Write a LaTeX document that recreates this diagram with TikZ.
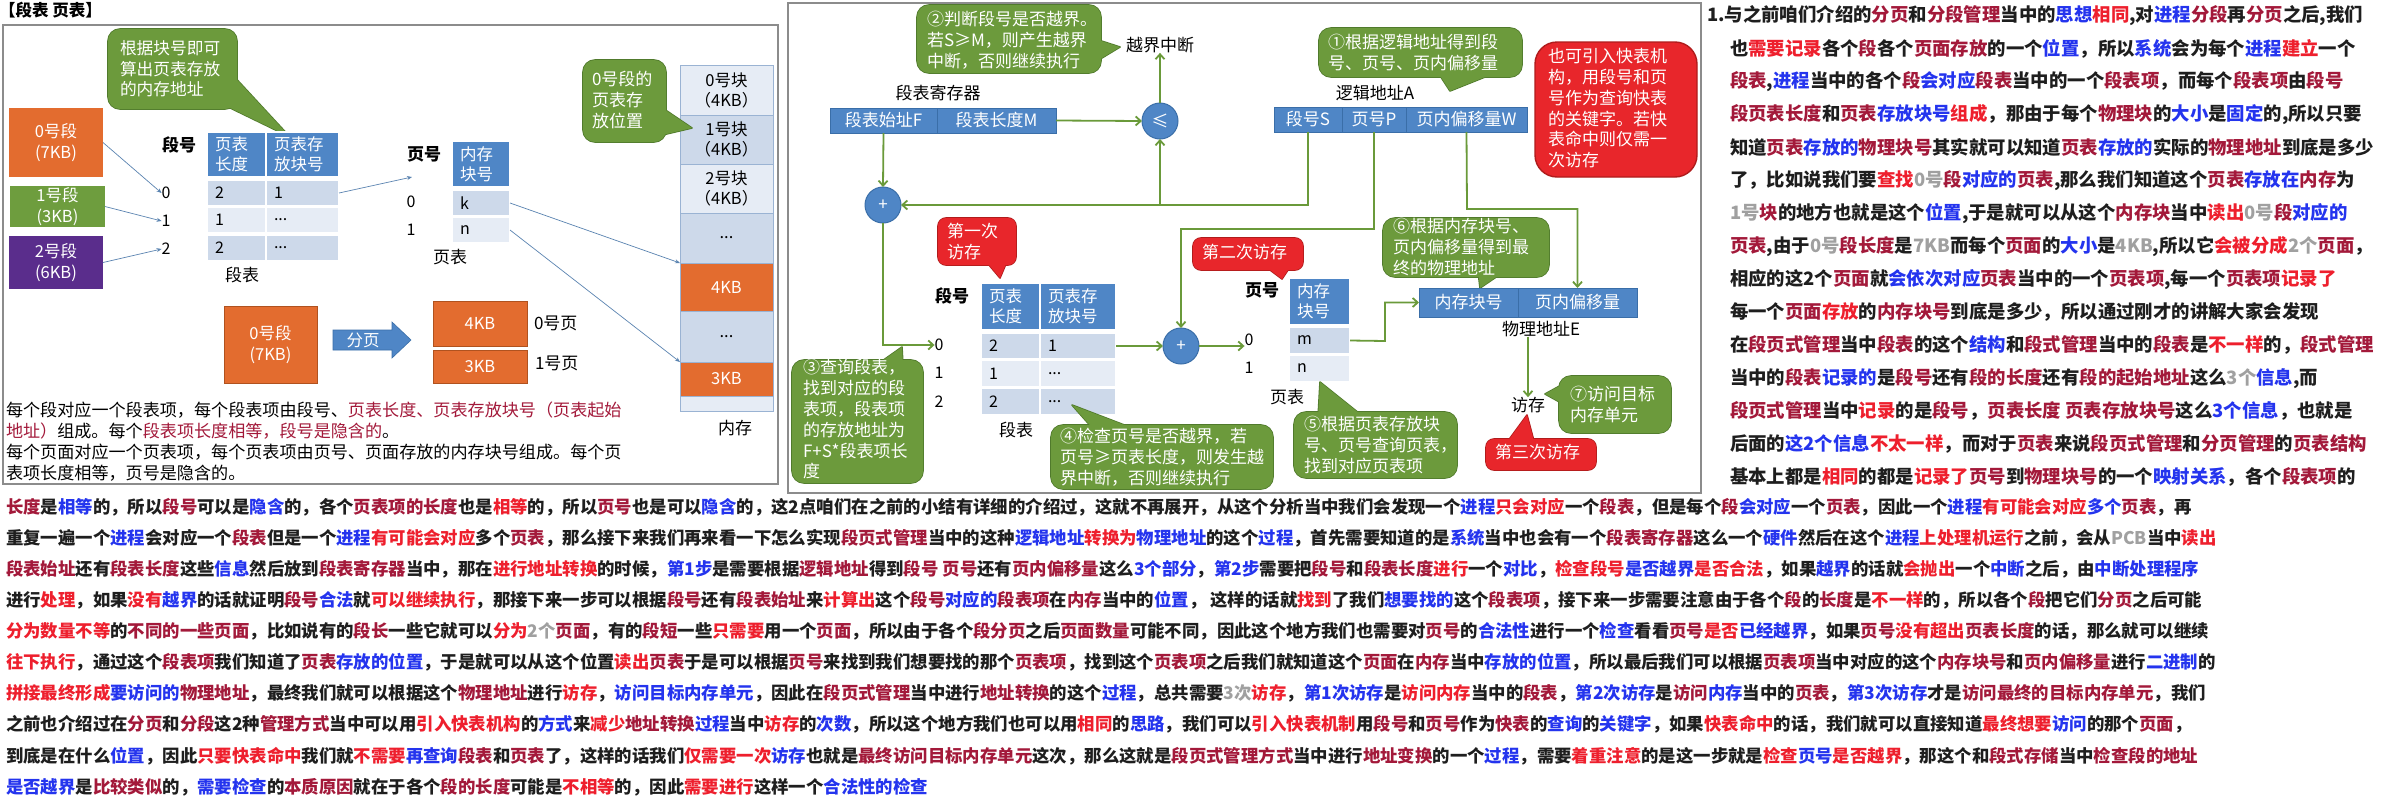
\documentclass[tikz,border=0pt]{standalone}
\usepackage{fontspec}
\setmainfont{Noto Sans CJK SC}
\usetikzlibrary{arrows.meta}
\definecolor{hdr}{HTML}{4F86C6}
\definecolor{hdrb}{HTML}{3A6EA8}
\definecolor{rowa}{HTML}{CDD9EA}
\definecolor{rowb}{HTML}{E6ECF5}
\definecolor{gfill}{HTML}{6C9A3C}
\definecolor{gbord}{HTML}{507A2C}
\definecolor{rfill}{HTML}{E8262B}
\definecolor{rbord}{HTML}{B01C1C}
\definecolor{segor}{HTML}{E36C2F}
\definecolor{segd}{HTML}{B0521F}
\definecolor{seggr}{HTML}{6E9D3E}
\definecolor{segpu}{HTML}{5A2D8C}
\definecolor{conn}{HTML}{6A9A3A}
\definecolor{thinb}{HTML}{5B84B1}
\definecolor{panelc}{HTML}{8C8C8C}
\definecolor{memb}{HTML}{9AB3D3}
\definecolor{tDR}{HTML}{A3193A}
\definecolor{tR}{HTML}{EE1F2D}
\definecolor{tB}{HTML}{2434EE}
\definecolor{tG}{HTML}{A0A0A0}
\definecolor{tK}{HTML}{1E1E1E}
\newcommand\fsz[2]{\fontsize{#1}{#2}\selectfont}
\newcommand\DR[1]{\textcolor{tDR}{#1}}
\newcommand\RR[1]{\textcolor{tR}{#1}}
\newcommand\BB[1]{\textcolor{tB}{#1}}
\newcommand\GG[1]{\textcolor{tG}{#1}}
\newcommand\callout[8]{%
  \draw[draw=#2, line width=1.6pt, rounded corners=#8] #3 rectangle #4;
  \draw[draw=#2, line width=1.6pt, line join=round] #5 -- #6 -- #7;
  \fill[#1, rounded corners=#8] #3 rectangle #4;
  \fill[#1] #5 -- #6 -- #7 -- cycle;}
\tikzset{
  every node/.style={inner sep=0pt, outer sep=0pt},
  panel/.style={draw=panelc, line width=1.2pt},
  lab/.style={font=\fsz{17}{17}},
  labb/.style={font=\fsz{17}{17}\bfseries},
  numl/.style={font=\fsz{16}{16}},
  hc/.style 2 args={draw=white, line width=1.2pt, fill=hdr, text=white, anchor=north west, align=left, inner xsep=8pt, text width=#1, minimum height=#2, font=\fsz{16.5}{20}},
  tc/.style n args={3}{draw=white, line width=1.2pt, fill=#3, anchor=north west, align=left, inner xsep=8pt, text width=#1, minimum height=#2, font=\fsz{16}{16}},
  mem/.style 2 args={draw=memb, line width=0.8pt, fill=#1, anchor=north west, minimum width=93pt, minimum height=#2, align=center, font=\fsz{16.5}{20}},
  bx/.style n args={3}{fill=#1, anchor=north west, minimum width=#2, minimum height=#3, align=center, text=white, font=\fsz{16.5}{21}},
  rg/.style={fill=hdr, draw=hdrb, line width=0.8pt, anchor=north west, minimum height=25pt, text=white, font=\fsz{17}{17}},
  circ/.style={circle, fill=hdr, draw=hdrb, line width=1pt, minimum size=36pt, text=white, font=\fsz{17}{17}},
  cot/.style={anchor=north west, align=left, text=white, font=\fsz{17}{20.8}},
  garrow/.style={draw=conn, line width=1.8pt, -{Straight Barb[length=5pt,width=9pt]}},
  tarrow/.style={draw=thinb, line width=0.7pt, -{Stealth[length=5pt,width=4pt]}},
  ltx/.style={anchor=west, font=\fsz{17.1}{17.1}, text=black},
  rtx/.style={anchor=west, font=\fsz{18.4}{18.4}\bfseries, text=tK},
  btx/.style={anchor=west, font=\fsz{17.4}{17.4}\bfseries, text=tK}
}
\begin{document}
\begin{tikzpicture}[x=1pt,y=-1pt]
\useasboundingbox (0,0) rectangle (2386,801);
\fill[white] (0,0) rectangle (2386,801);

% ---------------- left panel ----------------
\node[anchor=west, font=\fsz{16.5}{16.5}\bfseries] (title) at (-1,10) {【段表 页表】};
\draw[panel] (3,25) rectangle (778,484);

\callout{gfill}{gbord}{(108,29)}{(237,109)}{(228,70)}{(290,137)}{(220,103)}{12pt}
\node[cot, font=\fsz{16.7}{20.5}] (cl1) at (120,40.5) {根据块号即可\\算出页表存放\\的内存地址};

\node[bx={segor}{94pt}{69pt}] (sg0) at (9,108) {0号段\\(7KB)};
\node[bx={seggr}{95pt}{41pt}] (sg1) at (10,186) {1号段\\(3KB)};
\node[bx={segpu}{94pt}{53pt}] (sg2) at (9,236) {2号段\\(6KB)};

\node[labb] (lsh) at (179,145) {段号};
\node[numl] (n0) at (166,193) {0};
\node[numl] (n1) at (166,221) {1};
\node[numl] (n2) at (166,249) {2};

\node[hc={43pt}{45pt}] (lh1) at (207,132) {页表\\长度};
\node[hc={57pt}{45pt}] (lh2) at (266,132) {页表存\\放块号};
\node[tc={43pt}{26pt}{rowa}] (lr01) at (207,180) {2};
\node[tc={57pt}{26pt}{rowa}] (lr02) at (266,180) {1};
\node[tc={43pt}{26pt}{rowb}] (lr11) at (207,207) {1};
\node[tc={57pt}{26pt}{rowb}] (lr12) at (266,207) {...};
\node[tc={43pt}{26pt}{rowa}] (lr21) at (207,235) {2};
\node[tc={57pt}{26pt}{rowa}] (lr22) at (266,235) {...};
\node[lab] (lsb) at (242,275) {段表};

\node[labb] (lph) at (424,154) {页号};
\node[numl] (lp0) at (411,202) {0};
\node[numl] (lp1) at (411,230) {1};
\node[hc={42pt}{46pt}] (lph1) at (452,141) {内存\\块号};
\node[tc={42pt}{26pt}{rowa}] (lpk) at (452,190) {k};
\node[tc={42pt}{26pt}{rowb}] (lpn) at (452,217) {n};
\node[lab] (lpb) at (450,257) {页表};

\node[bx={segor}{93pt}{77pt}, draw=segd, line width=0.8pt] (sb) at (224,306) {0号段\\(7KB)};
\path[fill=hdr, draw=hdrb, line width=0.6pt] (333,330) -- (392,330) -- (392,322) -- (411,340) -- (392,358) -- (392,350) -- (333,350) -- cycle;
\node[text=white, font=\fsz{16.5}{16.5}] (fy) at (363,340) {分页};
\node[bx={segor}{94pt}{45pt}, draw=segd, line width=0.8pt] (pg4) at (433,301) {4KB};
\node[bx={segor}{94pt}{33pt}, draw=segd, line width=0.8pt] (pg3) at (433,350) {3KB};
\node[lab, anchor=west] (pl0) at (534,323) {0号页};
\node[lab, anchor=west] (pl1) at (535,363) {1号页};

\node[mem={rowb}{50pt}] (m0) at (680,65) {0号块\\（4KB）};
\node[mem={rowa}{49pt}] (m1) at (680,115) {1号块\\（4KB）};
\node[mem={rowb}{49pt}] (m2) at (680,164) {2号块\\（4KB）};
\node[mem={rowa}{50pt}] (m3) at (680,213) {...};
\node[mem={segor}{48pt}, text=white] (m4) at (680,263) {4KB};
\node[mem={rowa}{51pt}] (m5) at (680,311) {...};
\node[mem={segor}{34pt}, text=white] (m6) at (680,362) {3KB};
\node[mem={rowb}{15pt}] (m7) at (680,396) {};
\node[lab] (mlab) at (735,428) {内存};

\callout{gfill}{gbord}{(583,60)}{(666,142)}{(658,105)}{(692,128)}{(658,136)}{12pt}
\node[cot] (cl2) at (592,71.5) {0号段的\\页表存\\放位置};

\node[ltx] (lt1) at (6,410) {每个段对应一个段表项，每个段表项由段号、\DR{页表长度、页表存放块号（页表起始}};
\node[ltx] (lt2) at (6,431) {\DR{地址）}组成。每个\DR{段表项长度相等，段号是隐含的}。};
\node[ltx] (lt3) at (6,452) {每个页面对应一个页表项，每个页表项由页号、页面存放的内存块号组成。每个页};
\node[ltx] (lt4) at (6,473) {表项长度相等，页号是隐含的。};

\coordinate (pgin) at (412,177);
\draw[tarrow] (sg0.east) -- (n0.west);
\draw[tarrow] (sg1.east) -- (n1.west);
\draw[tarrow] (sg2.east) -- (n2.west);
\draw[tarrow] (lr02.east) -- (pgin);
\draw[tarrow] (lpk.east) -- (m4.north west);
\draw[tarrow] (lpn.east) -- (m6.north west);

% ---------------- middle panel ----------------
\draw[panel] (788,3) rectangle (1701,493);

\callout{gfill}{gbord}{(917,5)}{(1101,73)}{(1092,38)}{(1120,47)}{(1092,64)}{12pt}
\node[cot] (c2t) at (927,11.5) {②判断段号是否越界。\\若S≥M，则产生越界\\中断，否则继续执行};
\node[lab] (yjzd) at (1160,45) {越界中断};

\node[lab] (regl) at (938,93) {段表寄存器};
\node[rg, minimum width=107pt] (regF) at (830,108) {段表始址F};
\node[rg, minimum width=119pt] (regM) at (937,108) {段表长度M};
\node[circ] (le) at (1160,121) {≤};
\node[circ] (plus1) at (883,205) {+};

\callout{rfill}{rbord}{(938,218)}{(1016,265)}{(984,259)}{(1000,278)}{(1008,259)}{8pt}
\node[cot] (c1t) at (947,223.5) {第一次\\访存};

\node[labb] (msh) at (952,296) {段号};
\node[numl] (s0) at (939,345) {0};
\node[numl] (s1) at (939,373) {1};
\node[numl] (s2) at (939,402) {2};
\node[hc={43pt}{47pt}] (mh1) at (981,283) {页表\\长度};
\node[hc={60pt}{47pt}] (mh2) at (1040,283) {页表存\\放块号};
\node[tc={43pt}{26pt}{rowa}] (mr01) at (981,333) {2};
\node[tc={60pt}{26pt}{rowa}] (mr02) at (1040,333) {1};
\node[tc={43pt}{27pt}{rowb}] (mr11) at (981,360) {1};
\node[tc={60pt}{27pt}{rowb}] (mr12) at (1040,360) {...};
\node[tc={43pt}{27pt}{rowa}] (mr21) at (981,388) {2};
\node[tc={60pt}{27pt}{rowa}] (mr22) at (1040,388) {...};
\node[lab] (msb) at (1016,430) {段表};

\callout{gfill}{gbord}{(792,360)}{(923,483)}{(875,366)}{(902,347)}{(903,366)}{12pt}
\node[cot] (c3t) at (803,359.5) {③查询段表，\\找到对应的段\\表项，段表项\\的存放地址为\\F+S*段表项长\\度};

\callout{gfill}{gbord}{(1051,425)}{(1273,489)}{(1095,431)}{(1072,405)}{(1140,431)}{12pt}
\node[cot] (c4t) at (1060,428.5) {④检查页号是否越界，若\\页号≥页表长度，则发生越\\界中断，否则继续执行};

\node[circ] (plus2) at (1181,346) {+};

\callout{rfill}{rbord}{(1193,238)}{(1303,270)}{(1262,264)}{(1282,279)}{(1292,264)}{8pt}
\node[cot] (c2r) at (1202,244.5) {第二次访存};

\node[labb] (mph) at (1262,290) {页号};
\node[numl] (p0) at (1249,340) {0};
\node[numl] (p1) at (1249,368) {1};
\node[hc={45pt}{47pt}] (ph) at (1289,278) {内存\\块号};
\node[tc={45pt}{27pt}{rowa}] (pm) at (1289,327) {m};
\node[tc={45pt}{27pt}{rowb}] (pn) at (1289,355) {n};
\node[lab] (mpb) at (1287,397) {页表};

\callout{gfill}{gbord}{(1294,412)}{(1457,478)}{(1318,418)}{(1320,382)}{(1365,418)}{12pt}
\node[cot] (c5t) at (1304,416.5) {⑤根据页表存放块\\号、页号查询页表，\\找到对应页表项};

\callout{gfill}{gbord}{(1319,28)}{(1522,77)}{(1437,71)}{(1450,91)}{(1500,71)}{12pt}
\node[cot] (c1g) at (1328,34.5) {①根据逻辑地址得到段\\号、页号、页内偏移量};
\node[lab] (lal) at (1375,93) {逻辑地址A};
\node[rg, minimum width=68pt] (laS) at (1274,107) {段号S};
\node[rg, minimum width=64pt] (laP) at (1342,107) {页号P};
\node[rg, minimum width=121pt] (laW) at (1406,107) {页内偏移量W};

\draw[draw=rbord, fill=rfill, line width=1.4pt, rounded corners=22pt] (1535,42) rectangle (1697,177);
\node[cot] (ckb) at (1548,48.5) {也可引入快表机\\构，用段号和页\\号作为查询快表\\的关键字。若快\\表命中则仅需一\\次访存};

\callout{gfill}{gbord}{(1383,218)}{(1549,277)}{(1478,271)}{(1480,288)}{(1505,271)}{12pt}
\node[cot] (c6t) at (1393,218.5) {⑥根据内存块号、\\页内偏移量得到最\\终的物理地址};

\node[rg, minimum width=99pt, minimum height=29pt] (paBlk) at (1419,288) {内存块号};
\node[rg, minimum width=119pt, minimum height=29pt] (paOff) at (1518,288) {页内偏移量};
\node[lab] (wlE) at (1541,329) {物理地址E};
\node[lab] (fc) at (1528,405) {访存};

\callout{gfill}{gbord}{(1559,376)}{(1671,433)}{(1565,383)}{(1545,394)}{(1565,405)}{12pt}
\node[cot] (c7t) at (1570,386.5) {⑦访问目标\\内存单元};

\callout{rfill}{rbord}{(1486,439)}{(1596,470)}{(1505,445)}{(1527,415)}{(1535,445)}{8pt}
\node[cot] (c3r) at (1495,444.5) {第三次访存};

% middle connectors
\coordinate (jP) at (1374,229);
\coordinate (jW) at (1467,209);
\coordinate (jm) at (1385,341);
\draw[garrow] (regF.south) -- (plus1.north);
\draw[garrow] (regM.east) -- (le.west);
\draw[garrow] (le.north) -- (yjzd.south);
\draw[garrow] (laS.south) |- (plus1.east);
\draw[garrow] (le.south |- plus1.east) -- (le.south);
\draw[garrow] (plus1.south) |- (s0.west);
\draw[garrow] (mr02.east) -- (plus2.west);
\draw[garrow] (laP.south) -- (jP) -| (plus2.north);
\draw[garrow] (plus2.east) -- (plus2.east -| p0.west);
\draw[garrow] (laW.south) -- (jW) -| (paOff.north);
\draw[garrow] (pm.east) -- (jm) |- (paBlk.west);
\draw[garrow] (fc.north |- wlE.south) -- (fc.north);

% ---------------- right column text ----------------
\node[rtx] (r1) at (1707,16) {1.与之前咱们介绍的\DR{分页}和\DR{分段管理}当中的\BB{思想}\RR{相同},对\BB{进程}\DR{分段}再\DR{分页}之后,我们};
\node[rtx] (r2) at (1730,48.9) {也\RR{需要记录}各个\DR{段}各个\DR{页面存放}的一个\BB{位置}，所以\BB{系统}会为每个\BB{进程}\RR{建立}一个};
\node[rtx] (r3) at (1730,81.9) {\DR{段表},\BB{进程}当中的各个\DR{段}\BB{会对应}\DR{段表}当中的一个\DR{段表项}，而每个\DR{段表项}由\DR{段号}};
\node[rtx] (r4) at (1730,114.8) {\DR{段页表长度}和\DR{页表}\BB{存放块号}\RR{组成}，那由于每个\DR{物理块}的\BB{大小}是\BB{固定}的,所以只要};
\node[rtx] (r5) at (1730,147.7) {知道\DR{页表}\BB{存放的}\DR{物理块号}其实就可以知道\DR{页表}\BB{存放的}实际的\DR{物理地址}到底是多少};
\node[rtx] (r6) at (1730,180.7) {了，比如说我们要\RR{查找}\GG{0号}\DR{段}\BB{对应的}\DR{页表},那么我们知道这个\DR{页表}\BB{存放在}\DR{内存}为};
\node[rtx] (r7) at (1730,213.6) {\GG{1号}\DR{块}的地方也就是这个\BB{位置},于是就可以从这个\DR{内存块}当中\RR{读出}\GG{0号}\DR{段}\BB{对应的}};
\node[rtx] (r8) at (1730,246.5) {\DR{页表},由于\GG{0号}\DR{段长度}是\GG{7KB}而每个\DR{页面}的\BB{大小}是\GG{4KB},所以它\RR{会被分成}\GG{2个}\DR{页面}，};
\node[rtx] (r9) at (1730,279.4) {相应的这2个\DR{页面}就\BB{会依次对应}\DR{页表}当中的一个\DR{页表项},每一个\DR{页表项}\RR{记录了}};
\node[rtx] (r10) at (1730,312.4) {每一个\DR{页面}\RR{存放}的\DR{内存块号}到底是多少，所以通过刚才的讲解大家会发现};
\node[rtx] (r11) at (1730,345.3) {在\DR{段页式管理}当中\DR{段表}的这个\BB{结构}和\DR{段式管理}当中的\DR{段表}是\RR{不一样}的，\DR{段式管理}};
\node[rtx] (r12) at (1730,378.2) {当中的\DR{段表}\BB{记录的}是\DR{段号}还有\DR{段的长度}还有\DR{段的起始地址}这么\GG{3个}\BB{信息},而};
\node[rtx] (r13) at (1730,411.2) {\DR{段页式管理}当中\RR{记录}的是\DR{段号}，\DR{页表长度 页表存放块号}这么\BB{3个信息}，也就是};
\node[rtx] (r14) at (1730,444.1) {后面的\BB{这2个信息}\RR{不太一样}，而对于\DR{页表}来说\DR{段页式管理}和\DR{分页管理}的\DR{页表结构}};
\node[rtx] (r15) at (1730,477) {基本上都是\RR{相同}的都是\RR{记录了}\DR{页号}到\DR{物理块号}的一个\BB{映射关系}，各个\DR{段表项}的};

% ---------------- bottom text ----------------
\node[btx] (b1) at (6,507) {\DR{长度}是\BB{相等}的，所以\DR{段号}可以是\BB{隐含}的，各个\DR{页表项的长度}也是\RR{相等}的，所以\DR{页号}也是可以\BB{隐含}的，这2点咱们在之前的小结有详细的介绍过，这就不再展开，从这个分析当中我们会发现一个\BB{进程}\RR{只会对应}一个\DR{段表}，但是每个\DR{段}\BB{会对应}一个\DR{页表}，因此一个\BB{进程}\RR{有可能会对应}\BB{多个}\DR{页表}，再};
\node[btx] (b2) at (6,538.1) {重复一遍一个\BB{进程}会对应一个\DR{段表}但是一个\BB{进程}\RR{有可能会对应}多个\DR{页表}，那么接下来我们再来看一下怎么实现\DR{段页式管理}当中的这种\BB{逻辑地址}\RR{转换为}\BB{物理地址}的这个\BB{过程}，首先需要知道的是\BB{系统}当中也会有一个\DR{段表寄存器}这么一个\BB{硬件}然后在这个\BB{进程}\RR{上处理机运行}之前，会从\GG{PCB}当中\RR{读出}};
\node[btx] (b3) at (6,569.2) {\DR{段表始址}还有\DR{段表长度}这些\BB{信息}然后放到\DR{段表寄存器}当中，那在\RR{进行地址转换}的时候，\BB{第1步}是需要根据\DR{逻辑地址}得到\DR{段号 页号}还有\DR{页内偏移量}这么\BB{3个部分}，\BB{第2步}需要把\DR{段号}和\DR{段表长度}\RR{进行}一个\BB{对比}，\RR{检查段号}\BB{是否越界}\RR{是否合法}，如果\BB{越界}的话就\RR{会抛出}一个\BB{中断}之后，由\BB{中断处理程序}};
\node[btx] (b4) at (6,600.3) {进行\RR{处理}，如果\RR{没有}\BB{越界}的话就证明\DR{段号}\BB{合法}就\RR{可以继续执行}，那接下来一步可以根据\DR{段号}还有\DR{段表始址}来\RR{计算出}这个\DR{段号}\BB{对应的}\DR{段表项}在\DR{内存}当中的\BB{位置}， 这样的话就\RR{找到}了我们\BB{想要找的}这个\DR{段表项}，接下来一步需要注意由于各个\DR{段}的\DR{长度}是\RR{不一样}的，所以各个\DR{段}把它们\DR{分页}之后可能};
\node[btx] (b5) at (6,631.4) {\RR{分为数量不等}的\DR{不同的一些页面}，比如说有的\DR{段长}一些它就可以\RR{分为}\GG{2个}\DR{页面}，有的\DR{段短}一些\RR{只需要}用一个\DR{页面}，所以由于各个\DR{段分页}之后\DR{页面数量}可能不同，因此这个地方我们也需要对\DR{页号}的\BB{合法性}进行一个\BB{检查}看看\DR{页号}\RR{是否}\BB{已经越界}，如果\DR{页号}\RR{没有超出}\DR{页表长度}的话，那么就可以继续};
\node[btx] (b6) at (6,662.5) {\RR{往下执行}，通过这个\DR{段表项}我们知道了\DR{页表}\BB{存放的位置}，于是就可以从这个位置\RR{读出}\DR{页表}于是可以根据\DR{页号}来找到我们想要找的那个\DR{页表项}，找到这个\DR{页表项}之后我们就知道这个\DR{页面}在\DR{内存}当中\BB{存放的位置}，所以最后我们可以根据\DR{页表项}当中对应的这个\DR{内存块号}和\DR{页内偏移量}进行\BB{二进制}的};
\node[btx] (b7) at (6,693.6) {\RR{拼接最终形成}\BB{要访问的}\DR{物理地址}，最终我们就可以根据这个\DR{物理地址}进行\RR{访存}，\BB{访问目标内存单元}，因此在\DR{段页式管理}当中进行\DR{地址转换}的这个\BB{过程}，总共需要\GG{3次}\RR{访存}，\BB{第1次访存}是\RR{访问内存}当中的\DR{段表}，\BB{第2次访存}是\DR{访问}\BB{内存}当中的\DR{页表}，\BB{第3次访存}才是\DR{访问最终的目标内存单元}，我们};
\node[btx] (b8) at (6,724.7) {之前也介绍过在\DR{分页}和\DR{分段}这2种\DR{管理方式}当中可以用\RR{引入快表机构}的\BB{方式}来\RR{减少}\DR{地址转换}\BB{过程}当中\RR{访存}的\BB{次数}，所以这个地方我们也可以用\RR{相同}的\BB{思路}，我们可以\RR{引入快表机制}用\DR{段号}和\DR{页号}作为\DR{快表}的\BB{查询}的\BB{关键字}，如果\RR{快表命中}的话，我们就可以直接知道\RR{最终想要}\BB{访问}的那个\DR{页面}，};
\node[btx] (b9) at (6,755.8) {到底是在什么\BB{位置}，因此\RR{只要快表命中}我们就\RR{不需要}\BB{再查询}\DR{段表}和\DR{页表}了，这样的话我们\RR{仅需要一次}\BB{访存}也就是\DR{最终访问目标内存单元}这次，那么这就是\DR{段页式管理方式}当中进行\DR{地址变换}的一个\BB{过程}，需要\RR{着重注意}的是这一步就是\RR{检查}\BB{页号}\RR{是否越界}，那这个和\DR{段式存储}当中\DR{检查段的地址}};
\node[btx] (b10) at (6,786.9) {\BB{是否越界}是\DR{比较类似}的，\BB{需要检查}的\DR{本质原因}就在于各个\DR{段的长度}可能是\RR{不相等}的，因此\RR{需要进行}这样一个\BB{合法性的检查}};
\end{tikzpicture}
\end{document}
